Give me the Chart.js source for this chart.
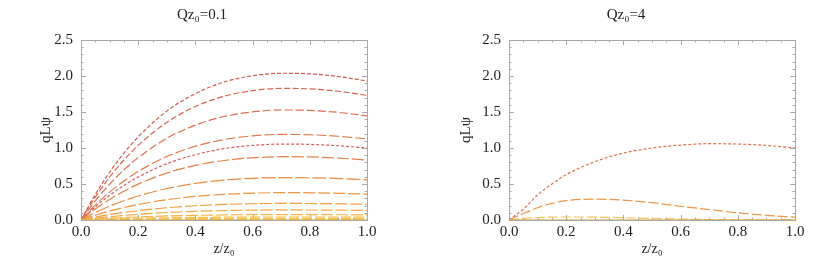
<!DOCTYPE html>
<html>
<head>
<meta charset="utf-8">
<script src="https://cdn.jsdelivr.net/npm/chart.js@4.4.1/dist/chart.umd.min.js"></script>
<style>
    html, body { margin: 0; padding: 0; background: #fff; }
    .wrap { display: flex; width: 830px; height: 272px; }
    .box { width: 415px; height: 272px; }
</style>
</head>
<body>
<div class="wrap">
    <div class="box"><canvas id="leftChart" width="415" height="272"></canvas></div>
    <div class="box"><canvas id="rightChart" width="415" height="272"></canvas></div>
</div>
<script>
// ===== Data =====
const zValues = [0, 0.05, 0.1, 0.15, 0.2, 0.3, 0.4, 0.5, 0.6, 0.7, 0.8, 0.9, 1.0];

// Qz0 = 0.1, top curve first
const left1  = [0, 0.355, 0.663, 0.928, 1.155, 1.512, 1.756, 1.916, 2.003, 2.038, 2.030, 1.993, 1.930];
const left2  = [0, 0.318, 0.595, 0.833, 1.036, 1.356, 1.576, 1.718, 1.797, 1.828, 1.821, 1.788, 1.731];
const left3  = [0, 0.266, 0.497, 0.696, 0.866, 1.134, 1.317, 1.437, 1.502, 1.528, 1.522, 1.495, 1.447];
const left4  = [0, 0.207, 0.387, 0.541, 0.674, 0.882, 1.025, 1.117, 1.169, 1.189, 1.184, 1.163, 1.126];
const left5  = [0, 0.184, 0.343, 0.480, 0.597, 0.782, 0.908, 0.991, 1.036, 1.054, 1.050, 1.031, 0.998];
const left6  = [0, 0.153, 0.286, 0.400, 0.498, 0.652, 0.758, 0.826, 0.864, 0.879, 0.876, 0.860, 0.832];
const left7  = [0, 0.103, 0.192, 0.268, 0.334, 0.437, 0.508, 0.554, 0.579, 0.589, 0.587, 0.576, 0.558];
const left8  = [0, 0.066, 0.124, 0.173, 0.215, 0.282, 0.327, 0.357, 0.373, 0.380, 0.378, 0.371, 0.359];
const left9  = [0, 0.040, 0.075, 0.105, 0.130, 0.170, 0.198, 0.216, 0.226, 0.230, 0.229, 0.225, 0.218];
const left10 = [0, 0.024, 0.046, 0.064, 0.079, 0.104, 0.121, 0.131, 0.137, 0.140, 0.139, 0.137, 0.132];
const left11 = [0, 0.013, 0.024, 0.034, 0.042, 0.056, 0.065, 0.070, 0.074, 0.075, 0.075, 0.073, 0.071];
const left12 = [0, 0.007, 0.014, 0.019, 0.024, 0.031, 0.036, 0.039, 0.041, 0.042, 0.042, 0.041, 0.040];
const left13 = [0, 0.004, 0.007, 0.010, 0.012, 0.016, 0.019, 0.021, 0.022, 0.022, 0.022, 0.021, 0.021];
const left14 = [0, 0.002, 0.003, 0.005, 0.006, 0.007, 0.009, 0.009, 0.010, 0.010, 0.010, 0.010, 0.009];
const zeroLine = [0, 0, 0, 0, 0, 0, 0, 0, 0, 0, 0, 0, 0];

// Qz0 = 4
const right1 = [0, 0.150, 0.350, 0.500, 0.630, 0.810, 0.930, 1.000, 1.040, 1.060, 1.055, 1.035, 1.000];
const right2 = [0, 0.090, 0.170, 0.230, 0.268, 0.290, 0.275, 0.240, 0.190, 0.145, 0.100, 0.065, 0.040];
const right3 = [0, 0.020, 0.033, 0.040, 0.042, 0.040, 0.032, 0.022, 0.013, 0.007, 0.004, 0.002, 0.001];

const xTickLabels = [0, 0.2, 0.4, 0.6, 0.8, 1.0];
const yTickLabels = [0, 0.5, 1.0, 1.5, 2.0, 2.5];

const FONT = "'Liberation Serif', 'DejaVu Serif', serif";
const TEXT = '#222';

// ===== Frame with inward ticks (Mathematica style) =====
const framePlugin = {
    id: 'frame',
    beforeDatasetsDraw(chart) {
        const { ctx, chartArea: a, scales: { x, y } } = chart;
        ctx.save();
        ctx.strokeStyle = '#a8a8a8';
        ctx.lineWidth = 1;
        ctx.strokeRect(Math.round(a.left) + 0.5, Math.round(a.top) + 0.5,
            Math.round(a.right - a.left), Math.round(a.bottom - a.top));
        ctx.beginPath();
        for (let i = 0; i <= 20; i++) {
            const px = Math.round(x.getPixelForValue(i * 0.05)) + 0.5;
            const len = i % 4 === 0 ? 5 : 2.5;
            ctx.moveTo(px, a.bottom); ctx.lineTo(px, a.bottom - len);
            ctx.moveTo(px, a.top); ctx.lineTo(px, a.top + len);
        }
        for (let i = 0; i <= 25; i++) {
            const py = Math.round(y.getPixelForValue(i * 0.1)) + 0.5;
            const len = i % 5 === 0 ? 5 : 2.5;
            ctx.moveTo(a.left, py); ctx.lineTo(a.left + len, py);
            ctx.moveTo(a.right, py); ctx.lineTo(a.right - len, py);
        }
        ctx.stroke();
        ctx.restore();
    }
};

function curve(values, color, dash) {
    return {
        data: values.map((v, i) => ({ x: zValues[i], y: v })),
        borderColor: color,
        borderWidth: 1.2,
        borderDash: dash,
        pointRadius: 0,
        cubicInterpolationMode: 'monotone',
        fill: false
    };
}

function renderPanel(elementId, title, datasets, padLeft, padRight, yWidth) {
    const ctx = document.getElementById(elementId).getContext('2d');
    new Chart(ctx, {
        type: 'line',
        data: { datasets },
        plugins: [framePlugin],
        options: {
            responsive: false,
            animation: false,
            layout: { padding: { left: padLeft, right: padRight, top: 0, bottom: 14 } },
            plugins: {
                legend: { display: false },
                tooltip: { enabled: false },
                title: {
                    display: true,
                    text: title,
                    color: TEXT,
                    font: { family: FONT, size: 15, weight: 'normal' },
                    padding: { top: 6, bottom: 16 }
                }
            },
            scales: {
                x: {
                    type: 'linear',
                    min: 0, max: 1,
                    afterFit: s => { s.height = 38; },
                    afterBuildTicks: s => { s.ticks = xTickLabels.map(v => ({ value: v })); },
                    grid: { display: false, drawTicks: false },
                    border: { display: false },
                    ticks: {
                        color: TEXT, padding: 3, maxRotation: 0,
                        font: { family: FONT, size: 15 },
                        callback: v => v.toFixed(1)
                    },
                    title: {
                        display: true, text: 'z/z₀', color: TEXT,
                        font: { family: FONT, size: 14 }, padding: 0
                    }
                },
                y: {
                    min: 0, max: 2.5,
                    afterFit: s => { s.width = yWidth; },
                    afterBuildTicks: s => { s.ticks = yTickLabels.map(v => ({ value: v })); },
                    grid: { display: false, drawTicks: false },
                    border: { display: false },
                    ticks: {
                        color: TEXT, padding: 8,
                        font: { family: FONT, size: 15 },
                        callback: v => v.toFixed(1)
                    },
                    title: {
                        display: true, text: 'qLψ', color: TEXT,
                        font: { family: FONT, size: 15 }, padding: 0
                    }
                }
            }
        }
    });
}

renderPanel('leftChart', 'Qz₀=0.1', [
    curve(zeroLine, '#e0a040', []),
    curve(left14, '#f7ce5a', [10, 3]),
    curve(left13, '#f6c651', [10, 3]),
    curve(left12, '#f4be48', [10, 3]),
    curve(left11, '#f2b443', [12, 3]),
    curve(left10, '#f0aa40', [12, 3]),
    curve(left9,  '#ee9f3f', [12, 3]),
    curve(left8,  '#eb9541', [12, 3]),
    curve(left7,  '#e98b44', [14, 3]),
    curve(left6,  '#e58048', [12, 3]),
    curve(left5,  '#d65e5c', [3, 2]),
    curve(left4,  '#e2784d', [10, 3]),
    curve(left3,  '#de6e50', [8, 3]),
    curve(left2,  '#d96552', [6, 2.5]),
    curve(left1,  '#d45a52', [4, 2])
], 37, 48, 44);

renderPanel('rightChart', 'Qz₀=4', [
    curve(zeroLine, '#d89a3a', []),
    curve(right3, '#f6c35a', [10, 3]),
    curve(right2, '#ec9848', [10, 3]),
    curve(right1, '#e0704f', [3, 2])
], 42, 35, 52);
</script>
</body>
</html>
